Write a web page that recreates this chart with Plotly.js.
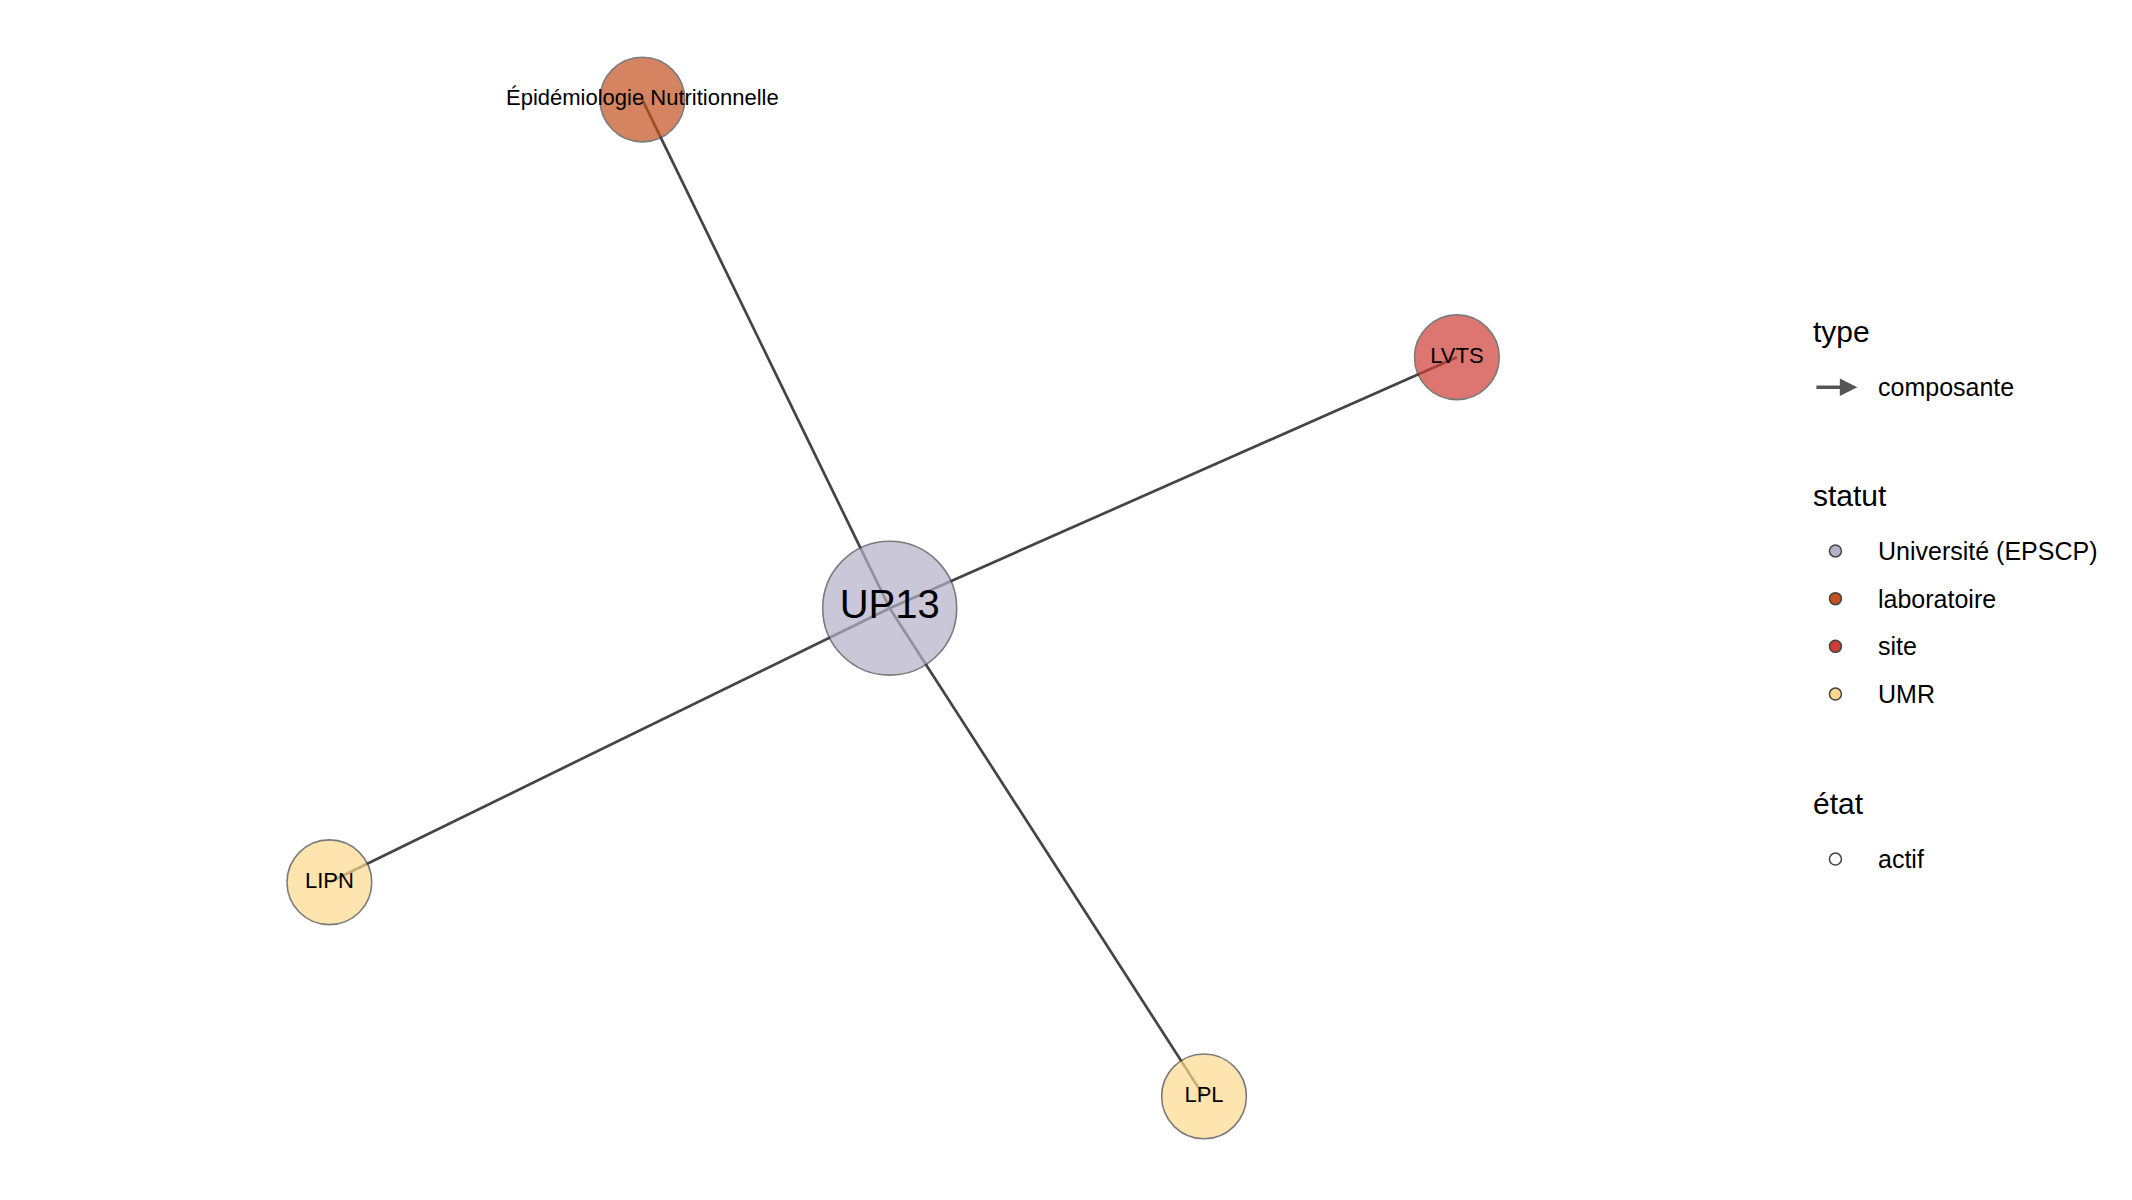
<!DOCTYPE html>
<html>
<head>
<meta charset="utf-8">
<script src="https://cdn.plot.ly/plotly-3.0.1.min.js"></script>
<style>html,body{margin:0;padding:0;background:#fff}#graph{width:2132px;height:1200px}</style>
</head>
<body>
<div id="graph"></div>
<script>
// nodes (layout coordinates, y grows downward)
var nodeNames = ['UP13', 'Épidémiologie Nutritionnelle', 'LVTS', 'LIPN', 'LPL'];
var nodeX = [651, 470, 1066, 241, 881];
var nodeY = [446, 73, 262, 647, 804];
var nodeStatut = ['Université (EPSCP)', 'laboratoire', 'site', 'UMR', 'UMR'];
var edgeFrom = [0, 0, 0, 0];
var edgeTo = [1, 2, 3, 4];

var statutNames = ['Université (EPSCP)', 'laboratoire', 'site', 'UMR'];
var statutColors = ['#b5b0ca', '#c4511f', '#cf3d36', '#fed98d'];

var S = 2132 / 1560;
var traces = [];

// edges
var ex = [], ey = [];
for (var i = 0; i < edgeFrom.length; i++) {
  ex.push(nodeX[edgeFrom[i]], nodeX[edgeTo[i]], null);
  ey.push(nodeY[edgeFrom[i]], nodeY[edgeTo[i]], null);
}
traces.push({x: ex, y: ey, mode: 'lines', line: {color: '#444', width: 2.7}, hoverinfo: 'skip', showlegend: false});

// nodes
var colors = nodeStatut.map(function (s) { return statutColors[statutNames.indexOf(s)]; });
var sizes = nodeNames.map(function (n, i) { return i === 0 ? 98 * S : 62 * S; });
var fsizes = nodeNames.map(function (n, i) { return i === 0 ? 40 : 22; });
traces.push({
  x: nodeX, y: nodeY, mode: 'markers+text', text: nodeNames, textposition: 'middle center',
  marker: {color: colors, size: sizes, line: {color: '#444', width: 1.6}},
  textfont: {family: 'Liberation Sans, Arial, sans-serif', size: fsizes, color: '#000'},
  hoverinfo: 'text', showlegend: false
});

// legend
var legX = 1343, textX = 1373;
var annotations = [];
function title(t, y) {
  annotations.push({x: 1325, y: y, xref: 'x', yref: 'y', text: t, showarrow: false, xanchor: 'left',
    font: {family: 'Liberation Sans, Arial, sans-serif', size: 30, color: '#000'}});
}
function item(t, y) {
  annotations.push({x: textX, y: y, xref: 'x', yref: 'y', text: t, showarrow: false, xanchor: 'left',
    font: {family: 'Liberation Sans, Arial, sans-serif', size: 25, color: '#000'}});
}
title('type', 243);
item('composante', 284);
annotations.push({x: 1359, y: 284, ax: 1328, ay: 284, xref: 'x', yref: 'y', axref: 'x', ayref: 'y',
  text: '', showarrow: true, arrowhead: 2, arrowsize: 1, arrowwidth: 3.5, arrowcolor: '#555'});
title('statut', 363);
var legY = [404, 439, 474, 509];
for (var k = 0; k < statutNames.length; k++) item(statutNames[k], legY[k]);
traces.push({x: legY.map(function () { return legX; }), y: legY, mode: 'markers',
  marker: {color: statutColors, size: 12, line: {color: '#444', width: 1.5}}, hoverinfo: 'skip', showlegend: false});
title('état', 589);
item('actif', 630);
traces.push({x: [legX], y: [630], mode: 'markers',
  marker: {color: '#fff', size: 12, line: {color: '#444', width: 1.5}}, hoverinfo: 'skip', showlegend: false});

var layout = {
  width: 2132, height: 1200, margin: {l: 0, r: 0, t: 0, b: 0},
  paper_bgcolor: '#fff', plot_bgcolor: '#fff', showlegend: false,
  xaxis: {range: [0, 1560], visible: false, fixedrange: true},
  yaxis: {range: [880, 0], visible: false, fixedrange: true},
  annotations: annotations
};
Plotly.newPlot('graph', traces, layout, {displayModeBar: false, staticPlot: true});
</script>
</body>
</html>
